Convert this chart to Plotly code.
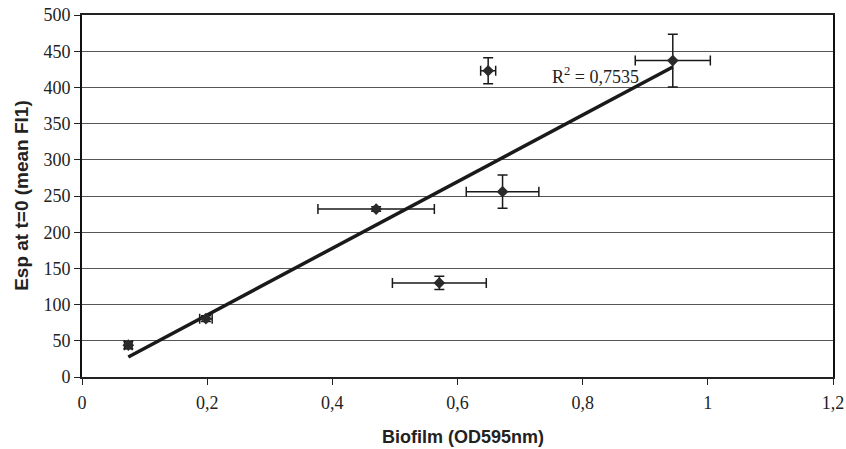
import numpy as np
import plotly.graph_objects as go

# Data
biofilm = [0.074, 0.198, 0.470, 0.571, 0.649, 0.672, 0.944]
biofilm_err = [0.006, 0.010, 0.093, 0.075, 0.012, 0.058, 0.060]
esp = [44, 80.5, 232, 130, 423, 256, 437]
esp_err = [5, 4, 3, 9, 18, 23, 36.5]
r2_label = "R<sup>2</sup> = 0,7535"
x_ticks = [0, 0.2, 0.4, 0.6, 0.8, 1.0, 1.2]
y_ticks = list(range(0, 501, 50))
x_title = "<b>Biofilm (OD595nm)</b>"
y_title = "<b>Esp at t=0 (mean FI1)</b>"

SERIF = "Liberation Serif, Times New Roman, serif"
SANS = "Liberation Sans, Arial, sans-serif"

# linear trendline (least squares) from the data
slope, intercept = np.polyfit(biofilm, esp, 1)
x_line = [min(biofilm), max(biofilm)]
y_line = [slope * v + intercept for v in x_line]

fig = go.Figure()
fig.add_trace(go.Scatter(
    x=x_line, y=y_line, mode="lines",
    line=dict(color="#1a1a1a", width=3.5),
    showlegend=False, hoverinfo="skip"))
fig.add_trace(go.Scatter(
    x=biofilm, y=esp, mode="markers",
    marker=dict(symbol="diamond", size=9, color="#2a2a2a"),
    error_x=dict(type="data", array=biofilm_err, color="#1a1a1a", thickness=1.5, width=5),
    error_y=dict(type="data", array=esp_err, color="#1a1a1a", thickness=1.5, width=5),
    showlegend=False))

fig.add_annotation(x=0.82, y=417, xref="x", yref="y", text=r2_label,
                   showarrow=False,
                   font=dict(family=SERIF, size=18, color="#222"))

# axis titles
fig.add_annotation(x=0.507, y=-0.166, xref="paper", yref="paper", text=x_title,
                   showarrow=False, xanchor="center", yanchor="middle",
                   font=dict(family=SANS, size=18, color="#222"))
fig.add_annotation(x=-0.08, y=0.503, xref="paper", yref="paper", text=y_title,
                   showarrow=False, xanchor="center", yanchor="middle", textangle=-90,
                   font=dict(family=SANS, size=19, color="#222"))

fig.update_layout(
    width=846, height=449,
    margin=dict(l=82, r=13, t=15, b=72),
    paper_bgcolor="white", plot_bgcolor="white",
    separators=", ",
    font=dict(family=SERIF, size=18, color="#222"),
    xaxis=dict(
        range=[0, 1.2], tickvals=x_ticks, ticks="outside", ticklen=6,
        tickcolor="#222", showgrid=False, zeroline=False, automargin=False,
        showline=True, linecolor="#222", linewidth=1.5, mirror=True,
        ticklabelstandoff=3,
        tickfont=dict(family=SERIF, size=18, color="#222"),
    ),
    yaxis=dict(
        range=[0, 500], tickvals=y_ticks, ticks="outside", ticklen=6,
        tickcolor="#222", showgrid=True, gridcolor="#555", gridwidth=1,
        zeroline=False, showline=True, linecolor="#111", linewidth=2, mirror=True,
        automargin=False,
        tickfont=dict(family=SERIF, size=18, color="#222"),
    ),
)

fig.write_html("out.html")
